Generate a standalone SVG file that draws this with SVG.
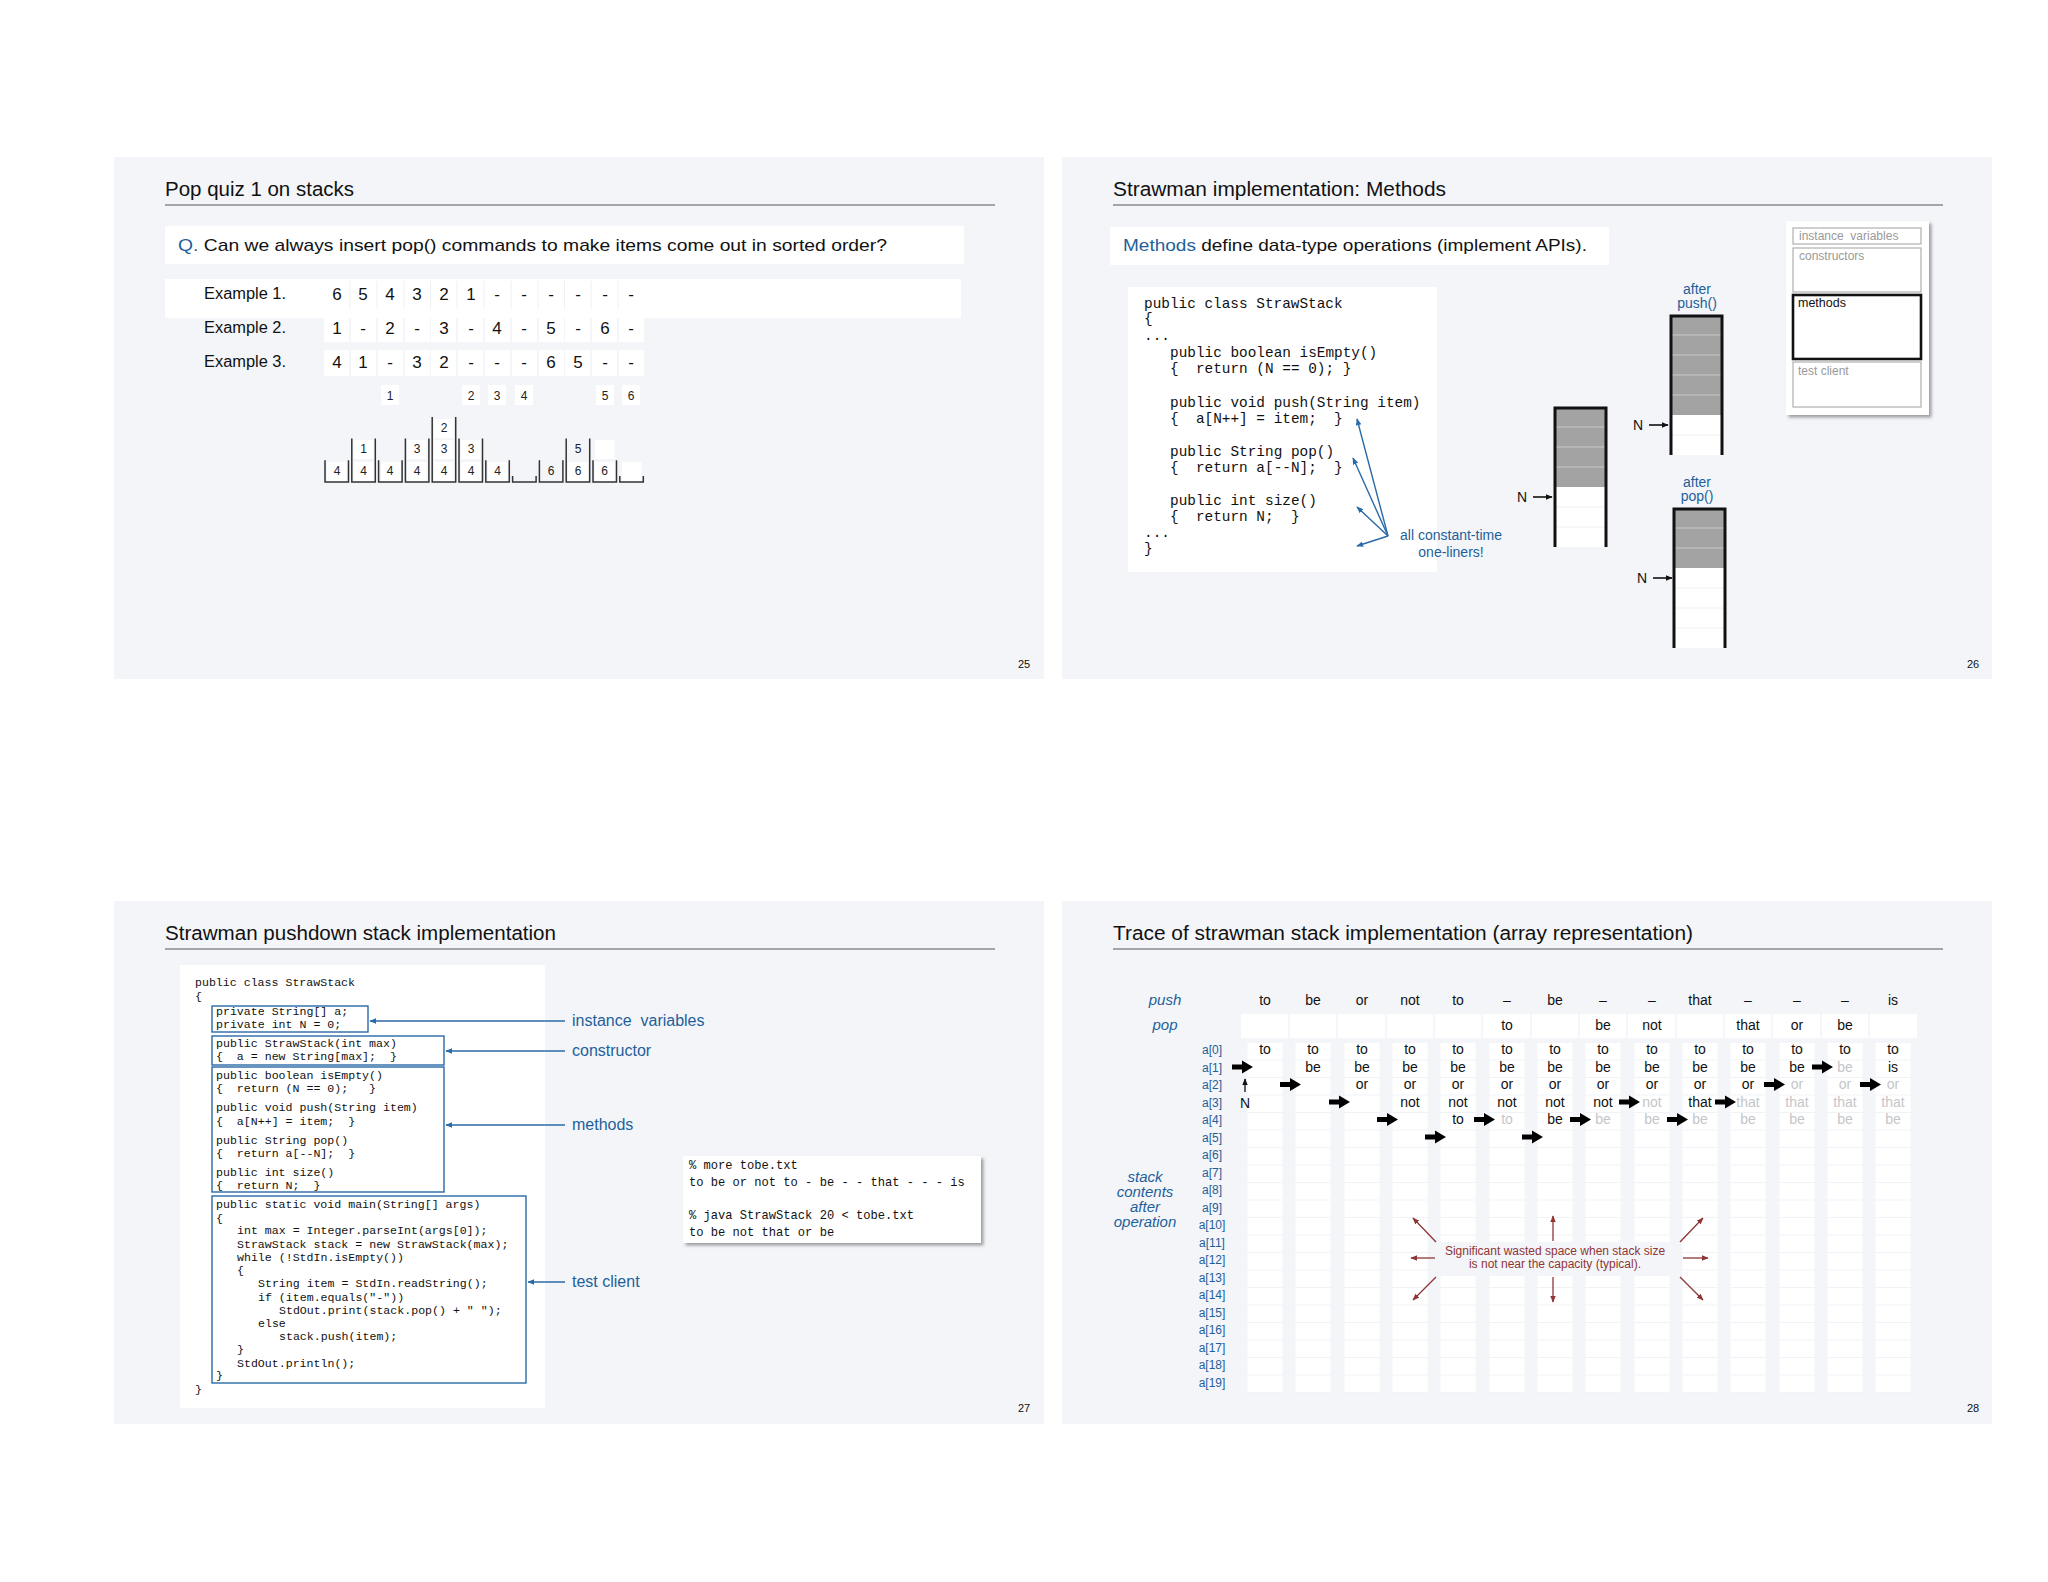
<svg xmlns="http://www.w3.org/2000/svg" width="2048" height="1582" viewBox="0 0 2048 1582">
<defs>
<style>
.bg{fill:#f3f5f9}
.ttl{font-family:"Liberation Sans",Arial,sans-serif;font-size:20px;fill:#111}
.rule{stroke:#8a8a8a;stroke-width:1.6}
.sans{font-family:"Liberation Sans",Arial,sans-serif}
.blue{fill:#1f5f99}
.red{fill:#8f3535}
.mono{font-family:"Liberation Mono","DejaVu Sans Mono",monospace;fill:#111}
.pg{font-family:"Liberation Sans",Arial,sans-serif;font-size:11px;fill:#111;text-anchor:middle}
.wall{fill:none;stroke:#333;stroke-width:1.5}
.cell{fill:#fff}
.num{font-family:"Liberation Sans",Arial,sans-serif;font-size:17px;fill:#111;text-anchor:middle}
.sn{font-family:"Liberation Sans",Arial,sans-serif;font-size:12px;fill:#222;text-anchor:middle}
.bx{fill:none;stroke:#2a6aa6;stroke-width:1.4}
.bl{stroke:#2a6aa6;stroke-width:1.4;fill:none}
.tv{font-family:"Liberation Sans",Arial,sans-serif;font-size:14px;fill:#111;text-anchor:middle}
.gv{fill:#c4c6ca}
.al{font-family:"Liberation Sans",Arial,sans-serif;font-size:12px;fill:#1f5f99;text-anchor:middle}
.rl{stroke:#8f3535;stroke-width:1.3;fill:none}
</style>
<marker id="ab" viewBox="0 0 10 10" refX="9" refY="5" markerWidth="7" markerHeight="7" orient="auto" markerUnits="userSpaceOnUse">
<path d="M0,1 L10,5 L0,9 Z" fill="#2a6aa6"/>
</marker>
<marker id="ak" viewBox="0 0 10 10" refX="9" refY="5" markerWidth="7" markerHeight="7" orient="auto" markerUnits="userSpaceOnUse">
<path d="M0,1 L10,5 L0,9 Z" fill="#111"/>
</marker>
<marker id="ar" viewBox="0 0 10 10" refX="9" refY="5" markerWidth="7" markerHeight="7" orient="auto" markerUnits="userSpaceOnUse">
<path d="M0,1 L10,5 L0,9 Z" fill="#8f3535"/>
</marker>
<polygon id="bar" points="0,-2.5 10,-2.5 10,-6.5 21,0 10,6.5 10,2.5 0,2.5" fill="#000"/>
<pattern id="cellpat" patternUnits="userSpaceOnUse" x="0" y="1043" width="10" height="17.5">
<rect width="10" height="17.5" fill="#fff"/>
<rect y="16.8" width="10" height="0.8" fill="#eceef2"/>
</pattern>
<filter id="sh" x="-5%" y="-5%" width="115%" height="120%">
<feDropShadow dx="2.5" dy="2.5" stdDeviation="1.5" flood-color="#666" flood-opacity="0.6"/>
</filter>
</defs>
<rect width="2048" height="1582" fill="#fff"/>

<!-- ================= Slide 25 ================= -->
<g id="slide25">
<rect class="bg" x="114" y="157" width="930" height="522"/>
<text class="ttl" x="165" y="196" textLength="189" lengthAdjust="spacingAndGlyphs">Pop quiz 1 on stacks</text>
<line class="rule" x1="165" y1="205" x2="995" y2="205"/>
<rect x="165" y="226" width="799" height="38" fill="#fff"/>
<text class="sans" x="178" y="251" font-size="17" fill="#111" textLength="709" lengthAdjust="spacingAndGlyphs"><tspan class="blue">Q.</tspan> Can we always insert pop() commands to make items come out in sorted order?</text>
<rect x="165" y="279" width="796" height="39" fill="#fff"/>
<g class="sans" font-size="16" fill="#111">
<text x="204" y="299" textLength="82" lengthAdjust="spacingAndGlyphs">Example 1.</text>
<text x="204" y="333" textLength="82" lengthAdjust="spacingAndGlyphs">Example 2.</text>
<text x="204" y="367" textLength="82" lengthAdjust="spacingAndGlyphs">Example 3.</text>
</g>
<g id="ex-cells" fill="#fff">
<rect x="324" y="316" width="25" height="26"/><rect x="351" y="316" width="25" height="26"/><rect x="378" y="316" width="25" height="26"/><rect x="405" y="316" width="25" height="26"/><rect x="431" y="316" width="25" height="26"/><rect x="458" y="316" width="25" height="26"/><rect x="485" y="316" width="25" height="26"/><rect x="512" y="316" width="25" height="26"/><rect x="539" y="316" width="25" height="26"/><rect x="565" y="316" width="25" height="26"/><rect x="592" y="316" width="25" height="26"/><rect x="619" y="316" width="25" height="26"/>
<rect x="324" y="350" width="25" height="26"/><rect x="351" y="350" width="25" height="26"/><rect x="378" y="350" width="25" height="26"/><rect x="405" y="350" width="25" height="26"/><rect x="431" y="350" width="25" height="26"/><rect x="458" y="350" width="25" height="26"/><rect x="485" y="350" width="25" height="26"/><rect x="512" y="350" width="25" height="26"/><rect x="539" y="350" width="25" height="26"/><rect x="565" y="350" width="25" height="26"/><rect x="592" y="350" width="25" height="26"/><rect x="619" y="350" width="25" height="26"/>
</g>
<g stroke="#eef0f3" stroke-width="1">
<line x1="350" y1="281" x2="350" y2="309"/><line x1="377" y1="281" x2="377" y2="309"/><line x1="404" y1="281" x2="404" y2="309"/><line x1="430.5" y1="281" x2="430.5" y2="309"/><line x1="457" y1="281" x2="457" y2="309"/><line x1="484" y1="281" x2="484" y2="309"/><line x1="511" y1="281" x2="511" y2="309"/><line x1="538" y1="281" x2="538" y2="309"/><line x1="564.5" y1="281" x2="564.5" y2="309"/><line x1="591" y1="281" x2="591" y2="309"/><line x1="618" y1="281" x2="618" y2="309"/>
</g>
<g class="num">
<text x="337" y="300">6</text><text x="363" y="300">5</text><text x="390" y="300">4</text><text x="417" y="300">3</text><text x="444" y="300">2</text><text x="471" y="300">1</text><text x="497" y="300">-</text><text x="524" y="300">-</text><text x="551" y="300">-</text><text x="578" y="300">-</text><text x="605" y="300">-</text><text x="631" y="300">-</text>
<text x="337" y="334">1</text><text x="363" y="334">-</text><text x="390" y="334">2</text><text x="417" y="334">-</text><text x="444" y="334">3</text><text x="471" y="334">-</text><text x="497" y="334">4</text><text x="524" y="334">-</text><text x="551" y="334">5</text><text x="578" y="334">-</text><text x="605" y="334">6</text><text x="631" y="334">-</text>
<text x="337" y="368">4</text><text x="363" y="368">1</text><text x="390" y="368">-</text><text x="417" y="368">3</text><text x="444" y="368">2</text><text x="471" y="368">-</text><text x="497" y="368">-</text><text x="524" y="368">-</text><text x="551" y="368">6</text><text x="578" y="368">5</text><text x="605" y="368">-</text><text x="631" y="368">-</text>
</g>
<g id="pop-order">
<rect class="cell" x="381" y="385" width="18" height="20"/><text class="sn" x="390" y="400">1</text>
<rect class="cell" x="462" y="385" width="18" height="20"/><text class="sn" x="471" y="400">2</text>
<rect class="cell" x="488" y="385" width="18" height="20"/><text class="sn" x="497" y="400">3</text>
<rect class="cell" x="515" y="385" width="18" height="20"/><text class="sn" x="524" y="400">4</text>
<rect class="cell" x="596" y="385" width="18" height="20"/><text class="sn" x="605" y="400">5</text>
<rect class="cell" x="622" y="385" width="18" height="20"/><text class="sn" x="631" y="400">6</text>
</g>
<g id="stacks">
<g fill="#fff">
<rect x="327" y="462" width="19.5" height="19"/>
<rect x="354" y="462" width="19.5" height="19"/><rect x="354" y="440" width="19.5" height="19"/>
<rect x="381" y="462" width="19.5" height="19"/>
<rect x="407" y="462" width="19.5" height="19"/><rect x="407" y="440" width="19.5" height="19"/>
<rect x="434" y="462" width="19.5" height="19"/><rect x="434" y="440" width="19.5" height="19"/><rect x="434" y="419" width="19.5" height="19"/>
<rect x="461" y="462" width="19.5" height="19"/><rect x="461" y="440" width="19.5" height="19"/>
<rect x="488" y="462" width="19.5" height="19"/>
<rect x="568" y="462" width="19.5" height="19"/>
<rect x="595" y="462" width="19.5" height="19"/><rect x="595" y="440" width="19.5" height="19"/>
<rect x="622" y="462" width="19.5" height="19"/>
</g>
<path class="wall" d="M325,460.3V482H348.5V460.3"/>
<path class="wall" d="M351.8,438.6V482H375.3V438.6"/>
<path class="wall" d="M378.6,460.3V482H402.1V460.3"/>
<path class="wall" d="M405.4,438.6V482H428.9V438.6"/>
<path class="wall" d="M432.2,416.9V482H455.7V416.9"/>
<path class="wall" d="M459,438.6V482H482.5V438.6"/>
<path class="wall" d="M485.8,460.3V482H509.3V460.3"/>
<path class="wall" d="M512.6,476V482H536.1V476"/>
<path class="wall" d="M539.4,460.3V482H562.9V460.3"/>
<path class="wall" d="M566.2,438.6V482H589.7V438.6"/>
<path class="wall" d="M593,460.3V482H616.5V460.3"/>
<path class="wall" d="M619.8,476V482H643.3V476"/>
<g class="sn">
<text x="337" y="475">4</text>
<text x="363.5" y="475">4</text><text x="363.5" y="453">1</text>
<text x="390" y="475">4</text>
<text x="417" y="475">4</text><text x="417" y="453">3</text>
<text x="444" y="475">4</text><text x="444" y="453">3</text><text x="444" y="432">2</text>
<text x="471" y="475">4</text><text x="471" y="453">3</text>
<text x="497.5" y="475">4</text>
<text x="551" y="475">6</text>
<text x="578" y="475">6</text><text x="578" y="453">5</text>
<text x="604.7" y="475">6</text>
</g>
</g>
<text class="pg" x="1024" y="668">25</text>
</g>

<!-- ================= Slide 26 ================= -->
<g id="slide26">
<rect class="bg" x="1062" y="157" width="930" height="522"/>
<text class="ttl" x="1113" y="196" textLength="333" lengthAdjust="spacingAndGlyphs">Strawman implementation: Methods</text>
<line class="rule" x1="1113" y1="205" x2="1943" y2="205"/>
<rect x="1110" y="227" width="499" height="38" fill="#fff"/>
<text class="sans" x="1123" y="251" font-size="17" fill="#111" textLength="464" lengthAdjust="spacingAndGlyphs"><tspan class="blue">Methods</tspan> define data-type operations (implement APIs).</text>
<g id="code26">
<rect x="1128" y="287" width="309" height="285" fill="#fff"/>
<g class="mono" font-size="14.4">
<text x="1144" y="308">public class StrawStack</text>
<text x="1144" y="323">{</text>
<text x="1144" y="340">...</text>
<text x="1170" y="357">public boolean isEmpty()</text>
<text x="1170" y="373">{&#160;&#160;return (N == 0); }</text>
<text x="1170" y="407">public void push(String item)</text>
<text x="1170" y="423">{&#160;&#160;a[N++] = item;&#160;&#160;}</text>
<text x="1170" y="456">public String pop()</text>
<text x="1170" y="472">{&#160;&#160;return a[--N];&#160;&#160;}</text>
<text x="1170" y="505">public int size()</text>
<text x="1170" y="521">{&#160;&#160;return N;&#160;&#160;}</text>
<text x="1144" y="537">...</text>
<text x="1144" y="553">}</text>
</g>
</g>
<g id="oneliner-arrows" class="bl" marker-end="url(#ab)">
<line x1="1388" y1="536" x2="1357" y2="419"/>
<line x1="1388" y1="536" x2="1353" y2="458"/>
<line x1="1388" y1="536" x2="1357" y2="507"/>
<line x1="1388" y1="536" x2="1357" y2="546"/>
</g>
<text class="sans blue" x="1451" y="540" font-size="14" text-anchor="middle">all constant-time</text>
<text class="sans blue" x="1451" y="557" font-size="14" text-anchor="middle">one-liners!</text>

<g id="arr-before">
<rect x="1554" y="407" width="53" height="80" fill="#a3a3a3"/>
<rect x="1554" y="487" width="53" height="60" fill="#fff"/>
<g stroke="#c9c9c9" stroke-width="1"><line x1="1555" y1="427" x2="1606" y2="427"/><line x1="1555" y1="447" x2="1606" y2="447"/><line x1="1555" y1="467" x2="1606" y2="467"/></g>
<g stroke="#f0f0f0" stroke-width="1"><line x1="1555" y1="507" x2="1606" y2="507"/><line x1="1555" y1="527" x2="1606" y2="527"/></g>
<path d="M1555,547V408H1606V547" fill="none" stroke="#111" stroke-width="3"/>
<text class="sans" x="1522" y="502" font-size="14" fill="#111" text-anchor="middle">N</text>
<line x1="1533" y1="497" x2="1552" y2="497" stroke="#111" stroke-width="1.6" marker-end="url(#ak)"/>
</g>
<g id="arr-push">
<text class="sans blue" x="1697" y="294" font-size="14" text-anchor="middle">after</text>
<text class="sans blue" x="1697" y="308" font-size="14" text-anchor="middle">push()</text>
<rect x="1670" y="315" width="53" height="100" fill="#a3a3a3"/>
<rect x="1670" y="415" width="53" height="40" fill="#fff"/>
<g stroke="#c9c9c9" stroke-width="1"><line x1="1671" y1="335" x2="1722" y2="335"/><line x1="1671" y1="355" x2="1722" y2="355"/><line x1="1671" y1="375" x2="1722" y2="375"/><line x1="1671" y1="395" x2="1722" y2="395"/></g>
<g stroke="#f0f0f0" stroke-width="1"><line x1="1671" y1="435" x2="1722" y2="435"/></g>
<path d="M1671,455V316H1722V455" fill="none" stroke="#111" stroke-width="3"/>
<text class="sans" x="1638" y="430" font-size="14" fill="#111" text-anchor="middle">N</text>
<line x1="1649" y1="425" x2="1668" y2="425" stroke="#111" stroke-width="1.6" marker-end="url(#ak)"/>
</g>
<g id="arr-pop">
<text class="sans blue" x="1697" y="487" font-size="14" text-anchor="middle">after</text>
<text class="sans blue" x="1697" y="501" font-size="14" text-anchor="middle">pop()</text>
<rect x="1673" y="508" width="53" height="60" fill="#a3a3a3"/>
<rect x="1673" y="568" width="53" height="80" fill="#fff"/>
<g stroke="#c9c9c9" stroke-width="1"><line x1="1674" y1="528" x2="1725" y2="528"/><line x1="1674" y1="548" x2="1725" y2="548"/></g>
<g stroke="#f0f0f0" stroke-width="1"><line x1="1674" y1="588" x2="1725" y2="588"/><line x1="1674" y1="608" x2="1725" y2="608"/><line x1="1674" y1="628" x2="1725" y2="628"/></g>
<path d="M1674,648V509H1725V648" fill="none" stroke="#111" stroke-width="3"/>
<text class="sans" x="1642" y="583" font-size="14" fill="#111" text-anchor="middle">N</text>
<line x1="1653" y1="578" x2="1672" y2="578" stroke="#111" stroke-width="1.6" marker-end="url(#ak)"/>
</g>
<g id="api-box">
<rect x="1786" y="221" width="143" height="194" fill="#fff" filter="url(#sh)"/>
<g fill="none" stroke="#b0b0b0" stroke-width="1.2">
<rect x="1793" y="228" width="128" height="16"/>
<rect x="1793" y="248" width="128" height="44"/>
<rect x="1793" y="362" width="128" height="45"/>
</g>
<rect x="1793" y="295" width="128" height="64" fill="none" stroke="#111" stroke-width="2.6"/>
<g class="sans" font-size="12" fill="#9a9a9a">
<text x="1799" y="240">instance&#160;&#160;variables</text>
<text x="1799" y="260">constructors</text>
<text x="1798" y="375">test client</text>
</g>
<text class="sans" x="1798" y="307" font-size="12.5" fill="#111">methods</text>
</g>
<text class="pg" x="1973" y="668">26</text>
</g>

<!-- ================= Slide 27 ================= -->
<g id="slide27">
<rect class="bg" x="114" y="901" width="930" height="523"/>
<text class="ttl" x="165" y="940" textLength="391" lengthAdjust="spacingAndGlyphs">Strawman pushdown stack implementation</text>
<line class="rule" x1="165" y1="949" x2="995" y2="949"/>
<rect x="180" y="965" width="365" height="443" fill="#fff"/>
<g class="mono" font-size="11.6">
<text x="195" y="986">public class StrawStack</text>
<text x="195" y="1000">{</text>
<text x="216" y="1015">private String[] a;</text>
<text x="216" y="1028">private int N = 0;</text>
<text x="216" y="1047">public StrawStack(int max)</text>
<text x="216" y="1060">{&#160;&#160;a = new String[max];&#160;&#160;}</text>
<text x="216" y="1079">public boolean isEmpty()</text>
<text x="216" y="1092">{&#160;&#160;return (N == 0);&#160;&#160;&#160;}</text>
<text x="216" y="1111">public void push(String item)</text>
<text x="216" y="1125">{&#160;&#160;a[N++] = item;&#160;&#160;}</text>
<text x="216" y="1144">public String pop()</text>
<text x="216" y="1157">{&#160;&#160;return a[--N];&#160;&#160;}</text>
<text x="216" y="1176">public int size()</text>
<text x="216" y="1189">{&#160;&#160;return N;&#160;&#160;}</text>
<text x="216" y="1208">public static void main(String[] args)</text>
<text x="216" y="1222">{</text>
<text x="237" y="1234">int max = Integer.parseInt(args[0]);</text>
<text x="237" y="1248">StrawStack stack = new StrawStack(max);</text>
<text x="237" y="1261">while (!StdIn.isEmpty())</text>
<text x="237" y="1274">{</text>
<text x="258" y="1287">String item = StdIn.readString();</text>
<text x="258" y="1301">if (item.equals("-"))</text>
<text x="279" y="1314">StdOut.print(stack.pop() + " ");</text>
<text x="258" y="1327">else</text>
<text x="279" y="1340">stack.push(item);</text>
<text x="237" y="1353">}</text>
<text x="237" y="1367">StdOut.println();</text>
<text x="216" y="1379">}</text>
<text x="195" y="1393">}</text>
</g>
<g id="part-boxes">
<rect class="bx" x="212" y="1006" width="156" height="26"/>
<rect class="bx" x="212" y="1036" width="232" height="29"/>
<rect class="bx" x="212" y="1067" width="232" height="125"/>
<rect class="bx" x="212" y="1196" width="314" height="187"/>
</g>
<g id="part-arrows" class="bl" marker-end="url(#ab)">
<line x1="565" y1="1021" x2="370" y2="1021"/>
<line x1="565" y1="1051" x2="446" y2="1051"/>
<line x1="565" y1="1125" x2="446" y2="1125"/>
<line x1="565" y1="1282" x2="528" y2="1282"/>
</g>
<g class="sans blue" font-size="16">
<text x="572" y="1026">instance&#160;&#160;variables</text>
<text x="572" y="1056">constructor</text>
<text x="572" y="1130">methods</text>
<text x="572" y="1287">test client</text>
</g>
<g id="terminal">
<rect x="683" y="1156" width="298" height="87" fill="#fff" filter="url(#sh)"/>
<g class="mono" font-size="12.1">
<text x="689" y="1169">% more tobe.txt</text>
<text x="689" y="1186">to be or not to - be - - that - - - is</text>
<text x="689" y="1219">% java StrawStack 20 &lt; tobe.txt</text>
<text x="689" y="1236">to be not that or be</text>
</g>
</g>
<text class="pg" x="1024" y="1412">27</text>
</g>

<!-- ================= Slide 28 ================= -->
<g id="slide28">
<rect class="bg" x="1062" y="901" width="930" height="523"/>
<text class="ttl" x="1113" y="940" textLength="580" lengthAdjust="spacingAndGlyphs">Trace of strawman stack implementation (array representation)</text>
<line class="rule" x1="1113" y1="949" x2="1943" y2="949"/>
<g class="sans blue" font-size="15" font-style="italic" text-anchor="middle">
<text x="1165" y="1005">push</text>
<text x="1165" y="1030">pop</text>
<text x="1145" y="1182">stack</text>
<text x="1145" y="1197">contents</text>
<text x="1145" y="1212">after</text>
<text x="1145" y="1227">operation</text>
</g>
<rect x="1241" y="1014" width="676" height="24" fill="#fff"/>
<g stroke="#eceef2" stroke-width="1">
<line x1="1289" y1="1014" x2="1289" y2="1038"/><line x1="1337" y1="1014" x2="1337" y2="1038"/><line x1="1386" y1="1014" x2="1386" y2="1038"/><line x1="1434" y1="1014" x2="1434" y2="1038"/><line x1="1482" y1="1014" x2="1482" y2="1038"/><line x1="1531" y1="1014" x2="1531" y2="1038"/><line x1="1579" y1="1014" x2="1579" y2="1038"/><line x1="1627" y1="1014" x2="1627" y2="1038"/><line x1="1676" y1="1014" x2="1676" y2="1038"/><line x1="1724" y1="1014" x2="1724" y2="1038"/><line x1="1772" y1="1014" x2="1772" y2="1038"/><line x1="1821" y1="1014" x2="1821" y2="1038"/><line x1="1869" y1="1014" x2="1869" y2="1038"/>
</g>
<g id="push-row" class="tv" font-size="15">
<text x="1265" y="1005">to</text><text x="1313" y="1005">be</text><text x="1362" y="1005">or</text><text x="1410" y="1005">not</text><text x="1458" y="1005">to</text><text x="1507" y="1005">–</text><text x="1555" y="1005">be</text><text x="1603" y="1005">–</text><text x="1652" y="1005">–</text><text x="1700" y="1005">that</text><text x="1748" y="1005">–</text><text x="1797" y="1005">–</text><text x="1845" y="1005">–</text><text x="1893" y="1005">is</text>
</g>
<g id="pop-row" class="tv" font-size="15">
<text x="1507" y="1030">to</text><text x="1603" y="1030">be</text><text x="1652" y="1030">not</text><text x="1748" y="1030">that</text><text x="1797" y="1030">or</text><text x="1845" y="1030">be</text>
</g>
<g id="strips" fill="url(#cellpat)">
<rect x="1247.5" y="1043" width="35" height="350"/><rect x="1295.5" y="1043" width="35" height="350"/><rect x="1344.5" y="1043" width="35" height="350"/><rect x="1392.5" y="1043" width="35" height="350"/><rect x="1440.5" y="1043" width="35" height="350"/><rect x="1489.5" y="1043" width="35" height="350"/><rect x="1537.5" y="1043" width="35" height="350"/><rect x="1585.5" y="1043" width="35" height="350"/><rect x="1634.5" y="1043" width="35" height="350"/><rect x="1682.5" y="1043" width="35" height="350"/><rect x="1730.5" y="1043" width="35" height="350"/><rect x="1779.5" y="1043" width="35" height="350"/><rect x="1827.5" y="1043" width="35" height="350"/><rect x="1875.5" y="1043" width="35" height="350"/>
</g>
<g id="idx" class="al">
<text x="1212" y="1054">a[0]</text><text x="1212" y="1071.5">a[1]</text><text x="1212" y="1089">a[2]</text><text x="1212" y="1106.5">a[3]</text><text x="1212" y="1124">a[4]</text><text x="1212" y="1141.5">a[5]</text><text x="1212" y="1159">a[6]</text><text x="1212" y="1176.5">a[7]</text><text x="1212" y="1194">a[8]</text><text x="1212" y="1211.5">a[9]</text><text x="1212" y="1229">a[10]</text><text x="1212" y="1246.5">a[11]</text><text x="1212" y="1264">a[12]</text><text x="1212" y="1281.5">a[13]</text><text x="1212" y="1299">a[14]</text><text x="1212" y="1316.5">a[15]</text><text x="1212" y="1334">a[16]</text><text x="1212" y="1351.5">a[17]</text><text x="1212" y="1369">a[18]</text><text x="1212" y="1386.5">a[19]</text>
</g>
<g id="contents" class="tv">
<text x="1265" y="1054">to</text>
<text x="1313" y="1054">to</text><text x="1313" y="1071.5">be</text>
<text x="1362" y="1054">to</text><text x="1362" y="1071.5">be</text><text x="1362" y="1089">or</text>
<text x="1410" y="1054">to</text><text x="1410" y="1071.5">be</text><text x="1410" y="1089">or</text><text x="1410" y="1106.5">not</text>
<text x="1458" y="1054">to</text><text x="1458" y="1071.5">be</text><text x="1458" y="1089">or</text><text x="1458" y="1106.5">not</text><text x="1458" y="1124">to</text>
<text x="1507" y="1054">to</text><text x="1507" y="1071.5">be</text><text x="1507" y="1089">or</text><text x="1507" y="1106.5">not</text><text class="gv" x="1507" y="1124">to</text>
<text x="1555" y="1054">to</text><text x="1555" y="1071.5">be</text><text x="1555" y="1089">or</text><text x="1555" y="1106.5">not</text><text x="1555" y="1124">be</text>
<text x="1603" y="1054">to</text><text x="1603" y="1071.5">be</text><text x="1603" y="1089">or</text><text x="1603" y="1106.5">not</text><text class="gv" x="1603" y="1124">be</text>
<text x="1652" y="1054">to</text><text x="1652" y="1071.5">be</text><text x="1652" y="1089">or</text><text class="gv" x="1652" y="1106.5">not</text><text class="gv" x="1652" y="1124">be</text>
<text x="1700" y="1054">to</text><text x="1700" y="1071.5">be</text><text x="1700" y="1089">or</text><text x="1700" y="1106.5">that</text><text class="gv" x="1700" y="1124">be</text>
<text x="1748" y="1054">to</text><text x="1748" y="1071.5">be</text><text x="1748" y="1089">or</text><text class="gv" x="1748" y="1106.5">that</text><text class="gv" x="1748" y="1124">be</text>
<text x="1797" y="1054">to</text><text x="1797" y="1071.5">be</text><text class="gv" x="1797" y="1089">or</text><text class="gv" x="1797" y="1106.5">that</text><text class="gv" x="1797" y="1124">be</text>
<text x="1845" y="1054">to</text><text class="gv" x="1845" y="1071.5">be</text><text class="gv" x="1845" y="1089">or</text><text class="gv" x="1845" y="1106.5">that</text><text class="gv" x="1845" y="1124">be</text>
<text x="1893" y="1054">to</text><text x="1893" y="1071.5">is</text><text class="gv" x="1893" y="1089">or</text><text class="gv" x="1893" y="1106.5">that</text><text class="gv" x="1893" y="1124">be</text>
</g>
<g id="n-arrows">
<use href="#bar" x="1232" y="1067"/>
<use href="#bar" x="1280" y="1084.5"/>
<use href="#bar" x="1329" y="1102"/>
<use href="#bar" x="1377" y="1119.5"/>
<use href="#bar" x="1425" y="1137"/>
<use href="#bar" x="1474" y="1119.5"/>
<use href="#bar" x="1522" y="1137"/>
<use href="#bar" x="1570" y="1119.5"/>
<use href="#bar" x="1619" y="1102"/>
<use href="#bar" x="1667" y="1119.5"/>
<use href="#bar" x="1715" y="1102"/>
<use href="#bar" x="1764" y="1084.5"/>
<use href="#bar" x="1812" y="1067"/>
<use href="#bar" x="1860" y="1084.5"/>
</g>
<line x1="1245" y1="1092" x2="1245" y2="1079" stroke="#111" stroke-width="1.3" marker-end="url(#ak)"/>
<text class="tv" x="1245" y="1108">N</text>
<rect x="1437" y="1242" width="243" height="34" fill="#f3f5f9"/>
<g class="sans red" font-size="12" text-anchor="middle">
<text x="1555" y="1255">Significant wasted space when stack size</text>
<text x="1555" y="1268">is not near the capacity (typical).</text>
</g>
<g id="waste-arrows" class="rl" marker-end="url(#ar)">
<line x1="1436" y1="1242" x2="1413" y2="1218"/>
<line x1="1435" y1="1258" x2="1411" y2="1258"/>
<line x1="1436" y1="1277" x2="1413" y2="1300"/>
<line x1="1553" y1="1241" x2="1553" y2="1216"/>
<line x1="1553" y1="1277" x2="1553" y2="1302"/>
<line x1="1680" y1="1242" x2="1703" y2="1218"/>
<line x1="1683" y1="1258" x2="1708" y2="1258"/>
<line x1="1680" y1="1277" x2="1703" y2="1300"/>
</g>
<text class="pg" x="1973" y="1412">28</text>
</g>
</svg>
